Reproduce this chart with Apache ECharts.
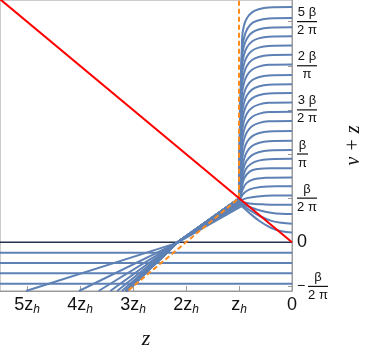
<!DOCTYPE html>
<html>
<head>
<meta charset="utf-8">
<script src="https://cdn.jsdelivr.net/npm/echarts@6/dist/echarts.min.js"></script>
<style>
  html, body { margin: 0; padding: 0; background: #fff; }
  #chart { width: 374px; height: 360px; }
</style>
</head>
<body>
<div id="chart"></div>
<script>
// x in units of z_h (axis runs right to left), y in units of beta/(2 pi)
const xTicks = [0, 1, 2, 3, 4, 5]
const yTicks = [-1, 0, 1, 2, 3, 4, 5]
const yTickLabels = {
  '-1': '{sp| }{n|β}\n{m|−}{bw| }\n{sp| }{n|2 π}',
  '0': '{z|0}',
  '1': '{n|β}\n{bw| }\n{n|2 π}',
  '2': '{nn|β}\n{bn| }\n{nn|π}',
  '3': '{n|3 β}\n{bw| }\n{n|2 π}',
  '4': '{n|2 β}\n{bw| }\n{n|π}',
  '5': '{n|5 β}\n{bw| }\n{n|2 π}'
}

const negLevels = [-0.24, -0.47, -0.70, -0.94]
const zeroLine = [[0, 0], [5.6, 0]]
const redLine = [[0, 0], [5.6, 5.6]]
const orangeLine = [[3.2, -1.2], [1, 1], [1, 5.6]]

// each curve: bottom edge, crossing near z = 2.2 z_h, arrival near the kink, then the bend to its level at z = 0
const curves = [
  [[5.02, -1.104], [2.18, -0.02], [0.95, 0.82], [0.8, 0.66], [0.6, 0.47], [0.4, 0.33], [0.2, 0.25], [0, 0.22]],
  [[4.02, -1.104], [2.18, -0.02], [0.96, 0.86], [0.8, 0.73], [0.6, 0.59], [0.4, 0.49], [0.2, 0.44], [0, 0.42]],
  [[3.65, -1.104], [2.18, -0.02], [0.97, 0.89], [0.8, 0.8], [0.6, 0.72], [0.4, 0.67], [0.2, 0.645], [0, 0.64]],
  [[3.43, -1.104], [2.18, -0.02], [0.97, 0.92], [0.8, 0.88], [0.55, 0.86], [0.3, 0.85], [0, 0.85]],
  [[3.30, -1.104], [2.18, -0.02], [0.98, 0.94], [0.85, 1.0], [0.65, 1.04], [0.35, 1.06], [0, 1.06]],
  [[3.21, -1.104], [2.18, -0.02], [0.98, 0.96], [0.92, 1.1], [0.8, 1.2], [0.6, 1.25], [0.3, 1.27], [0, 1.27]],
  [[3.15, -1.104], [2.18, -0.02], [0.985, 0.97], [0.94, 1.17], [0.86, 1.34], [0.72, 1.43], [0.5, 1.46], [0, 1.47]],
  [[3.14, -1.104], [2.18, -0.02], [0.99, 0.98], [0.95, 1.22], [0.9, 1.45], [0.8, 1.6], [0.65, 1.66], [0.4, 1.68], [0, 1.68]],
  [[3.13, -1.104], [2.18, -0.02], [0.99, 0.98], [0.96, 1.15], [0.93, 1.45], [0.87, 1.66], [0.77, 1.78], [0.63, 1.85], [0.42, 1.88], [0, 1.89]],
  [[3.13, -1.104], [2.18, -0.02], [1.0, 0.99], [0.96, 1.35], [0.92, 1.65], [0.86, 1.84], [0.76, 1.97], [0.63, 2.04], [0.44, 2.08], [0, 2.09]],
  [[3.12, -1.104], [2.18, -0.02], [1.0, 0.99], [0.95, 1.56], [0.91, 1.86], [0.85, 2.05], [0.755, 2.18], [0.63, 2.25], [0.44, 2.29], [0, 2.30]],
  [[3.12, -1.104], [2.18, -0.02], [1.0, 0.99], [0.95, 1.78], [0.91, 2.08], [0.85, 2.27], [0.755, 2.40], [0.63, 2.47], [0.44, 2.51], [0, 2.52]],
  [[3.12, -1.104], [2.18, -0.02], [1.0, 0.99], [0.95, 2.01], [0.91, 2.31], [0.85, 2.50], [0.755, 2.63], [0.63, 2.70], [0.44, 2.74], [0, 2.75]],
  [[3.12, -1.104], [2.18, -0.02], [1.0, 0.99], [0.95, 2.22], [0.91, 2.52], [0.85, 2.71], [0.755, 2.84], [0.63, 2.91], [0.44, 2.95], [0, 2.96]],
  [[3.12, -1.104], [2.18, -0.02], [1.0, 0.99], [0.95, 2.43], [0.91, 2.73], [0.85, 2.92], [0.755, 3.05], [0.63, 3.12], [0.44, 3.16], [0, 3.17]],
  [[3.12, -1.104], [2.18, -0.02], [1.0, 0.99], [0.95, 2.64], [0.91, 2.94], [0.85, 3.13], [0.755, 3.26], [0.63, 3.33], [0.44, 3.37], [0, 3.38]],
  [[3.12, -1.104], [2.18, -0.02], [1.0, 0.99], [0.95, 2.84], [0.91, 3.14], [0.85, 3.33], [0.755, 3.46], [0.63, 3.53], [0.44, 3.57], [0, 3.58]],
  [[3.12, -1.104], [2.18, -0.02], [1.0, 0.99], [0.95, 3.05], [0.91, 3.35], [0.85, 3.54], [0.755, 3.67], [0.63, 3.74], [0.44, 3.78], [0, 3.79]],
  [[3.12, -1.104], [2.18, -0.02], [1.0, 0.99], [0.95, 3.29], [0.91, 3.59], [0.85, 3.78], [0.755, 3.91], [0.63, 3.98], [0.44, 4.02], [0, 4.03]],
  [[3.12, -1.104], [2.18, -0.02], [1.0, 0.99], [0.95, 3.51], [0.91, 3.81], [0.85, 4.00], [0.755, 4.13], [0.63, 4.20], [0.44, 4.24], [0, 4.25]],
  [[3.12, -1.104], [2.18, -0.02], [1.0, 0.99], [0.95, 3.72], [0.91, 4.02], [0.85, 4.21], [0.755, 4.34], [0.63, 4.41], [0.44, 4.45], [0, 4.46]],
  [[3.12, -1.104], [2.18, -0.02], [1.0, 0.99], [0.95, 3.93], [0.91, 4.23], [0.85, 4.42], [0.755, 4.55], [0.63, 4.62], [0.44, 4.66], [0, 4.67]],
  [[3.12, -1.104], [2.18, -0.02], [1.0, 0.99], [0.95, 4.13], [0.91, 4.43], [0.85, 4.62], [0.755, 4.75], [0.63, 4.82], [0.44, 4.86], [0, 4.87]],
  [[3.12, -1.104], [2.18, -0.02], [1.0, 0.99], [0.943, 4.36], [0.88, 4.74], [0.787, 4.93], [0.66, 5.02], [0.44, 5.07], [0, 5.08]],
  [[3.12, -1.104], [2.18, -0.02], [1.0, 0.99], [0.943, 4.59], [0.911, 4.89], [0.849, 5.08], [0.755, 5.21], [0.628, 5.28], [0.44, 5.32], [0, 5.33]]
]
// index of the kink point in every curve: straight before it, smooth after it
const kinkIndex = 2

const frameColor = '#9a9a9a'
const textColor = '#111'
const blue = '#5e81b5'

let series = []
negLevels.forEach((c) => {
  series.push({
    type: 'line',
    symbol: 'none',
    data: [[0, c], [5.6, c]],
    lineStyle: { color: blue, width: 2 }
  })
})
series.push({
  type: 'line',
  symbol: 'none',
  data: zeroLine,
  lineStyle: { color: '#26334d', width: 1.5 }
})
curves.forEach((pts) => {
  series.push({
    type: 'line',
    symbol: 'none',
    data: pts.slice(0, kinkIndex + 1),
    lineStyle: { color: blue, width: 2 }
  })
  series.push({
    type: 'line',
    symbol: 'none',
    smooth: 0.4,
    data: pts.slice(kinkIndex),
    lineStyle: { color: blue, width: 2 }
  })
})
series.push({
  type: 'line',
  symbol: 'none',
  data: orangeLine,
  lineStyle: { color: '#ff8a1c', width: 2, type: [5, 3] }
})
series.push({
  type: 'line',
  symbol: 'none',
  data: redLine,
  lineStyle: { color: '#ff0000', width: 2 }
})

const myChart = echarts.init(document.getElementById('chart'))
const option = {
  animation: false,
  grid: {
    left: 0,
    right: 82,
    top: 0,
    bottom: 69,
    show: true,
    borderColor: frameColor,
    borderWidth: 1
  },
  xAxis: {
    type: 'value',
    inverse: true,
    min: 0,
    max: 5.51,
    name: 'z',
    nameLocation: 'middle',
    nameGap: 37,
    nameTextStyle: {
      fontFamily: 'Liberation Serif',
      fontStyle: 'italic',
      fontSize: 22,
      color: textColor
    },
    splitLine: { show: false },
    axisLine: { show: true, onZero: false, lineStyle: { color: frameColor } },
    axisTick: { inside: true, length: 5, customValues: xTicks, lineStyle: { color: frameColor } },
    axisLabel: {
      customValues: xTicks,
      margin: 3,
      color: textColor,
      fontFamily: 'Liberation Sans',
      formatter: (v) => {
        if (v === 0) return '{v|0}'
        if (v === 1) return '{v|z}{s|h}'
        return '{v|' + v + 'z}{s|h}'
      },
      rich: {
        v: { fontSize: 18, lineHeight: 22, fontFamily: 'Liberation Sans', color: textColor },
        s: { fontSize: 12, lineHeight: 12, verticalAlign: 'bottom', fontStyle: 'italic', fontFamily: 'Liberation Sans', color: textColor }
      }
    }
  },
  yAxis: {
    type: 'value',
    position: 'right',
    min: -1.104,
    max: 5.49,
    name: 'ν + z',
    nameLocation: 'middle',
    nameRotate: 90,
    nameGap: 52,
    nameTextStyle: {
      fontFamily: 'Liberation Serif',
      fontStyle: 'italic',
      fontSize: 20,
      color: textColor
    },
    splitLine: { show: false },
    axisLine: { show: true, onZero: false, lineStyle: { color: frameColor } },
    axisTick: { inside: true, length: 4, customValues: yTicks, lineStyle: { color: frameColor } },
    axisLabel: {
      customValues: yTicks,
      margin: 5,
      color: textColor,
      fontFamily: 'Liberation Sans',
      formatter: (v) => yTickLabels[String(Math.round(v))] || '',
      rich: {
        z: { fontSize: 18, lineHeight: 22, fontFamily: 'Liberation Sans', color: textColor },
        n: { fontSize: 13, lineHeight: 15, width: 20, align: 'center', fontFamily: 'Liberation Sans', color: textColor },
        nn: { fontSize: 13, lineHeight: 15, width: 11, align: 'center', fontFamily: 'Liberation Sans', color: textColor },
        bw: { fontSize: 1, width: 20, height: 1.2, lineHeight: 3, backgroundColor: textColor },
        bn: { fontSize: 1, width: 11, height: 1.2, lineHeight: 3, backgroundColor: textColor },
        m: { fontSize: 14, width: 11, lineHeight: 3, fontFamily: 'Liberation Sans', color: textColor },
        sp: { fontSize: 13, width: 11, lineHeight: 15 }
      }
    }
  },
  series: series
}
myChart.setOption(option)
</script>
</body>
</html>
